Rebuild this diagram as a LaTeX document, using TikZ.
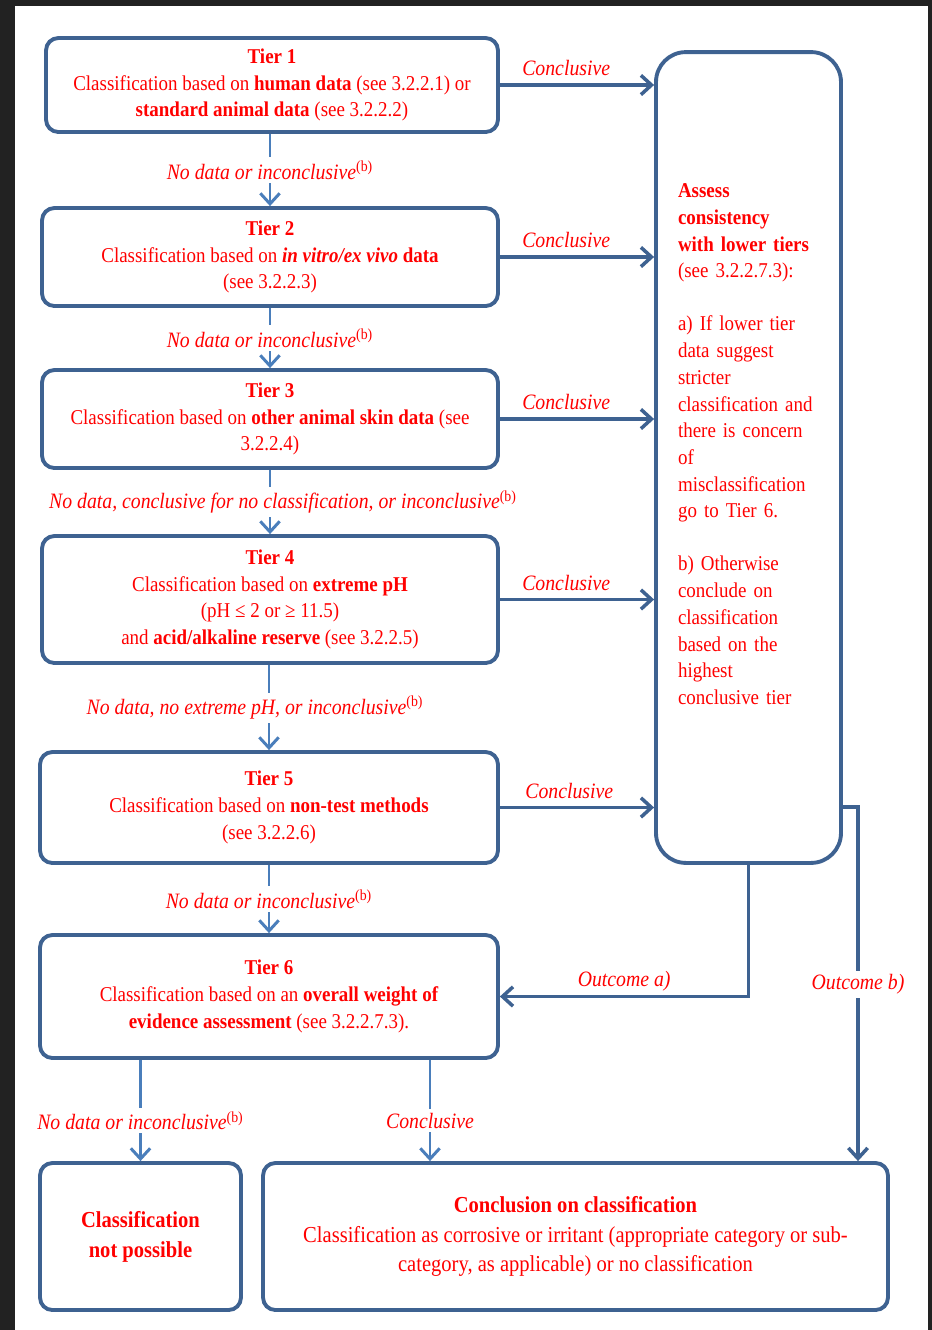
\documentclass[tikz,border=0pt]{standalone}
\usepackage{fontspec}
\setmainfont{Liberation Serif}[FakeStretch=0.9]
\usetikzlibrary{calc,arrows.meta}

\definecolor{boxblue}{RGB}{62,98,145}
\definecolor{linkblue}{RGB}{74,126,187}
\definecolor{txtred}{RGB}{255,0,0}
\definecolor{framegray}{RGB}{34,34,34}

\begin{document}
\begin{tikzpicture}[x=0.02cm,y=-0.02cm,
		tierbox/.style={draw=boxblue,line width=2.2pt,rounded corners=7pt,align=center,text=txtred,font=\fontsize{12}{15.2}\selectfont,inner sep=2pt},
		conclarrow/.style={boxblue,line width=2pt,-{Straight Barb[length=6pt,width=11pt]}},
		tierarrow/.style={linkblue,line width=1.7pt,-{Straight Barb[length=6pt,width=11pt]}},
		flowlabel/.style={text=txtred,font=\fontsize{12.5}{14}\selectfont\itshape,inner sep=2pt}]
		
			%frame and page
			\useasboundingbox (0,0) rectangle (932,1330);
			\fill [framegray] (0,0) rectangle (932,1330);
			\fill [white] (15,6) rectangle (928,1330);
			
			%tier boxes
			\node[tierbox,minimum width=9.04cm,minimum height=1.88cm] (tierone) at (272,85)
				{\textbf{Tier 1}\\Classification based on \textbf{human data} (see 3.2.2.1) or\\\textbf{standard animal data} (see 3.2.2.2)};
			\node[tierbox,minimum width=9.12cm,minimum height=1.96cm] (tiertwo) at (270,257)
				{\textbf{Tier 2}\\Classification based on \textbf{\textit{in vitro/ex vivo}} \textbf{data}\\(see 3.2.2.3)};
			\node[tierbox,minimum width=9.12cm,minimum height=1.96cm] (tierthree) at (270,419)
				{\textbf{Tier 3}\\Classification based on \textbf{other animal skin data} (see\\3.2.2.4)};
			\node[tierbox,minimum width=9.12cm,minimum height=2.54cm] (tierfour) at (270,599.5)
				{\textbf{Tier 4}\\Classification based on \textbf{extreme pH}\\(pH ≤ 2 or ≥ 11.5)\\and \textbf{acid/alkaline reserve} (see 3.2.2.5)};
			\node[tierbox,minimum width=9.16cm,minimum height=2.22cm] (tierfive) at (269,807.5)
				{\textbf{Tier 5}\\Classification based on \textbf{non-test methods}\\(see 3.2.2.6)};
			\node[tierbox,minimum width=9.16cm,minimum height=2.46cm] (tiersix) at (269,996.5)
				{\textbf{Tier 6}\\Classification based on an \textbf{overall weight of}\\\textbf{evidence assessment} (see 3.2.2.7.3).};
			
			%end boxes
			\node[tierbox,font=\fontsize{13}{17}\selectfont,minimum width=4.02cm,minimum height=2.94cm] (nopossible) at (140.5,1236.5)
				{\textbf{Classification}\\\textbf{not possible}};
			\node[tierbox,font=\fontsize{13}{17}\selectfont,minimum width=12.5cm,minimum height=2.94cm] (conclusion) at (575.5,1236.5)
				{\textbf{Conclusion on classification}\\Classification as corrosive or irritant (appropriate category or sub-\\category, as applicable) or no classification};
			
			%consistency box
			\node[tierbox,rounded corners=17pt,align=left,text width=2.82cm,minimum width=3.7cm,minimum height=16.22cm] (assess) at (748.5,457.5)
				{\textbf{Assess}\\\textbf{consistency}\\\textbf{with lower tiers}\\(see 3.2.2.7.3):\\[15pt]
				a) If lower tier\\data suggest\\stricter\\classification and\\there is concern\\of\\misclassification\\go to Tier 6.\\[15pt]
				b) Otherwise\\conclude on\\classification\\based on the\\highest\\conclusive tier\\\mbox{}};
			
			%conclusive arrows
			\draw[conclarrow] (tierone.east) -- node[flowlabel,above=2pt,pos=0.43]{Conclusive} (tierone.east -| assess.west);
			\draw[conclarrow] (tiertwo.east) -- node[flowlabel,above=2pt,pos=0.43]{Conclusive} (tiertwo.east -| assess.west);
			\draw[conclarrow] (tierthree.east) -- node[flowlabel,above=2pt,pos=0.43]{Conclusive} (tierthree.east -| assess.west);
			\draw[conclarrow] (tierfour.east) -- node[flowlabel,above=2pt,pos=0.43]{Conclusive} (tierfour.east -| assess.west);
			\draw[conclarrow] (tierfive.east) -- node[flowlabel,above=2pt,pos=0.45]{Conclusive} (tierfive.east -| assess.west);
			
			%no data arrows
			\draw[tierarrow] (tiertwo.north |- tierone.south) -- node[flowlabel,fill=white]{No data or inconclusive\textsuperscript{\textup{(b)}}} (tiertwo.north);
			\draw[tierarrow] (tierthree.north |- tiertwo.south) -- node[flowlabel,fill=white]{No data or inconclusive\textsuperscript{\textup{(b)}}} (tierthree.north);
			\draw[tierarrow] (tierfour.north |- tierthree.south) -- node[flowlabel,fill=white,xshift=0.26cm]{No data, conclusive for no classification, or inconclusive\textsuperscript{\textup{(b)}}} (tierfour.north);
			\draw[tierarrow] (tierfive.north |- tierfour.south) -- node[flowlabel,fill=white,xshift=-0.28cm]{No data, no extreme pH, or inconclusive\textsuperscript{\textup{(b)}}} (tierfive.north);
			\draw[tierarrow] (tiersix.north |- tierfive.south) -- node[flowlabel,fill=white]{No data or inconclusive\textsuperscript{\textup{(b)}}} (tiersix.north);
			
			%tier 6 outcomes
			\draw[tierarrow] (nopossible.north |- tiersix.south) -- node[flowlabel,fill=white,pos=0.6]{No data or inconclusive\textsuperscript{\textup{(b)}}} (nopossible.north);
			\draw[tierarrow] ($(tiersix.south)+(161,0)$) coordinate (sixout) -- node[flowlabel,fill=white,pos=0.6]{Conclusive} (sixout |- conclusion.north);
			
			%outcomes of consistency check
			\draw[conclarrow] (assess.south) |- node[flowlabel,above=0pt,pos=0.75]{Outcome a)} (tiersix.east);
			\coordinate (bend) at (858,807);
			\draw[conclarrow] (assess.east |- bend) -- (bend) -- node[flowlabel,fill=white]{Outcome b)} (bend |- conclusion.north);
			
	\end{tikzpicture}
\end{document}
